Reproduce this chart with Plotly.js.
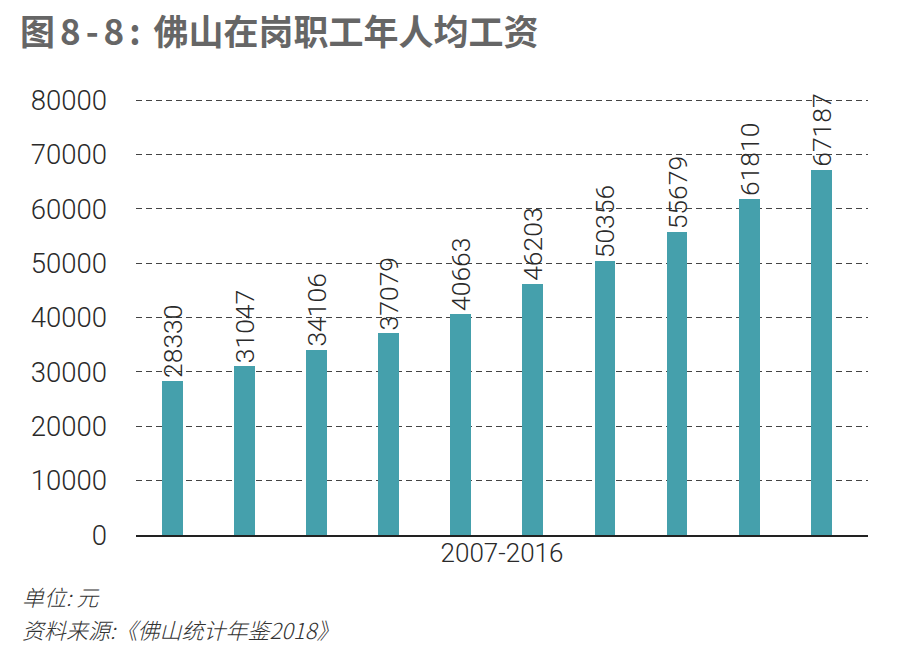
<!DOCTYPE html>
<html>
<head>
<meta charset="utf-8">
<script src="https://cdn.plot.ly/plotly-3.0.1.min.js"></script>
<style>html,body{margin:0;padding:0;background:#fff;}#chart{width:901px;height:658px;}</style>
</head>
<body>
<div id="chart"></div>
<script>
const years = ['2007','2008','2009','2010','2011','2012','2013','2014','2015','2016'];
const wages = [28330, 31047, 34106, 37079, 40663, 46203, 50356, 55679, 61810, 67187];
const titlePrefix = '图8-8:';
const titleMain = ' 佛山在岗职工年人均工资';
const xTitle = '2007-2016';
const noteUnit = '单位: 元';
const noteSource = '资料来源:《佛山统计年鉴2018》';

const numFont = 'Roboto, "Liberation Sans", "Noto Sans CJK SC", sans-serif';
const cjkFont = '"Noto Sans CJK SC", "Noto Sans", sans-serif';

const trace = {
  type: 'bar',
  x: years,
  y: wages,
  width: 0.29,
  marker: {color: '#45a0ac'},
  text: wages.map(String),
  textposition: 'outside',
  textangle: -90,
  constraintext: 'none',
  cliponaxis: false,
  textfont: {family: numFont, size: 26.5, color: '#2a2a2a', weight: 300},
  hoverinfo: 'none'
};

const layout = {
  width: 901, height: 658,
  margin: {l: 136, r: 33, t: 98, b: 123},
  paper_bgcolor: '#fff', plot_bgcolor: '#fff',
  showlegend: false,
  bargap: 0,
  title: {
    text: '<b><span style="letter-spacing:5px">' + titlePrefix + '</span>' + titleMain + '</b>',
    font: {family: cjkFont, size: 35, color: '#666666'},
    xref: 'container', yref: 'container',
    x: 20/901, xanchor: 'left',
    y: 1 - 33/658, yanchor: 'middle'
  },
  xaxis: {
    type: 'category',
    range: [-0.507, 9.65],
    showticklabels: false,
    ticks: '',
    showgrid: false,
    zeroline: false,
    showline: true,
    linecolor: '#222',
    linewidth: 1.5,
    title: {text: xTitle, font: {family: numFont, size: 26, color: '#2a2a2a', weight: 300}, standoff: 8}
  },
  yaxis: {
    range: [0, 80400],
    tickvals: [0,10000,20000,30000,40000,50000,60000,70000,80000],
    ticktext: ['0','10000','20000','30000','40000','50000','60000','70000','80000'],
    tickfont: {family: numFont, size: 27.5, color: '#2a2a2a', weight: 300},
    ticks: '',
    ticklabelstandoff: 28,
    showgrid: true,
    gridcolor: '#444',
    gridwidth: 1,
    griddash: '6px,4px',
    zeroline: false,
    showline: false
  },
  annotations: [
    {text: '<i>' + noteUnit + '</i>', xref: 'paper', yref: 'paper', x: -115/732, y: -61/437,
     xanchor: 'left', yanchor: 'middle', showarrow: false, borderpad: 0,
     font: {family: cjkFont, size: 22, color: '#333', weight: 300}},
    {text: '<i>' + noteSource + '</i>', xref: 'paper', yref: 'paper', x: -115/732, y: -94/437,
     xanchor: 'left', yanchor: 'middle', showarrow: false, borderpad: 0,
     font: {family: cjkFont, size: 22, color: '#333', weight: 300}}
  ]
};

Plotly.newPlot('chart', [trace], layout, {displayModeBar: false, staticPlot: true});
</script>
</body>
</html>
